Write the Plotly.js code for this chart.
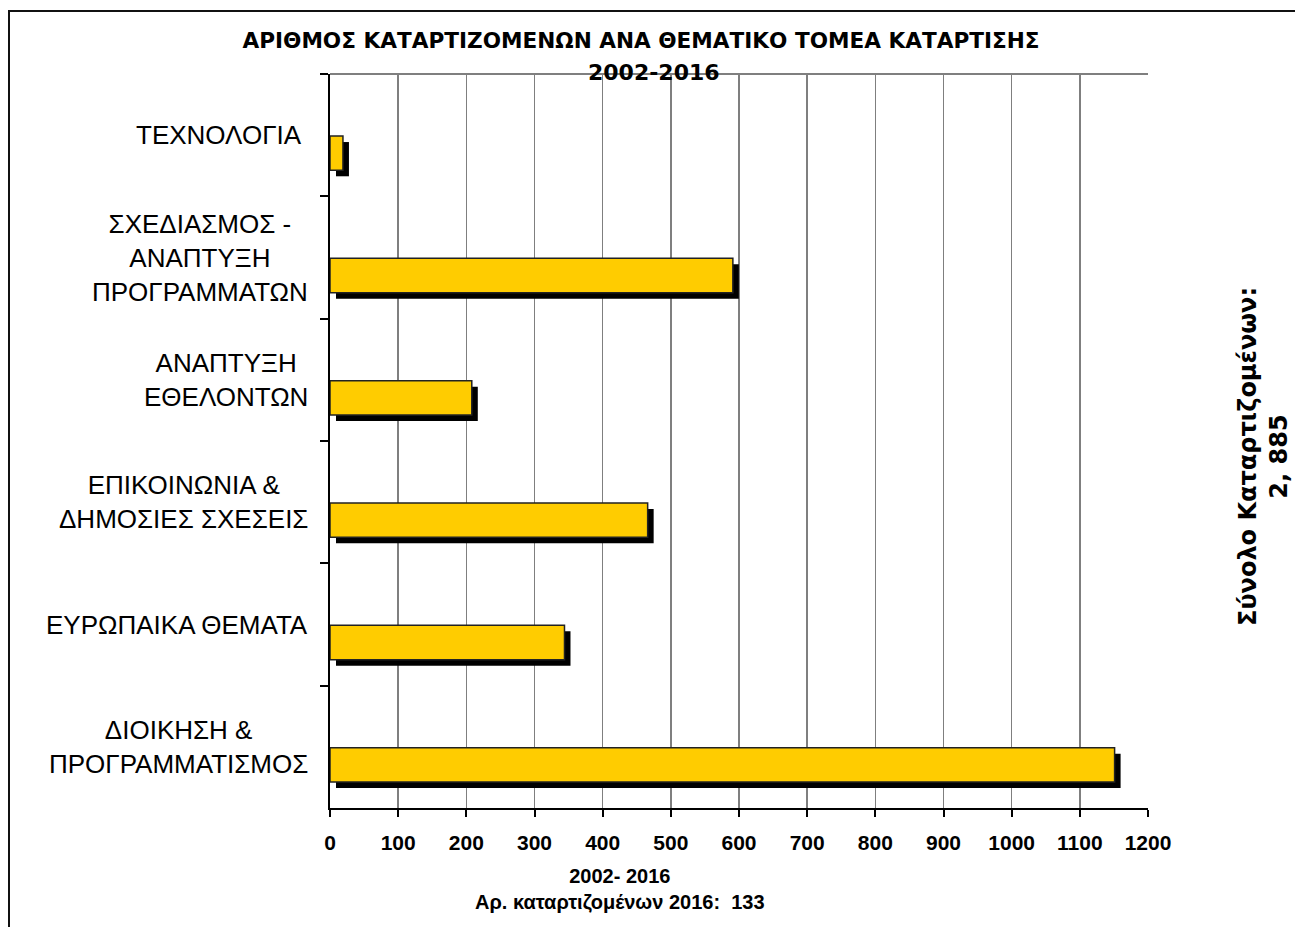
<!DOCTYPE html>
<html>
<head>
<meta charset="utf-8">
<script src="https://cdn.plot.ly/plotly-3.0.1.min.js"></script>
<style>
  html, body { margin: 0; padding: 0; overflow: hidden; background: #fff; }
  #chart { width: 1295px; height: 927px; position: absolute; left: 0; top: 0; }
  #frame { position: absolute; left: 8px; top: 10px; width: 1400px; height: 1000px;
           border: 2px solid #111; pointer-events: none; }
</style>
</head>
<body>
<div id="chart"></div>
<div id="frame"></div>
<script>
// ---- data (top to bottom as in the picture) ----
const categories = [
  "ΤΕΧΝΟΛΟΓΙΑ",
  "ΣΧΕΔΙΑΣΜΟΣ - ΑΝΑΠΤΥΞΗ ΠΡΟΓΡΑΜΜΑΤΩΝ",
  "ΑΝΑΠΤΥΞΗ ΕΘΕΛΟΝΤΩΝ",
  "ΕΠΙΚΟΙΝΩΝΙΑ & ΔΗΜΟΣΙΕΣ ΣΧΕΣΕΙΣ",
  "ΕΥΡΩΠΑΙΚΑ ΘΕΜΑΤΑ",
  "ΔΙΟΙΚΗΣΗ & ΠΡΟΓΡΑΜΜΑΤΙΣΜΟΣ"
];
const categoryLabels = [
  "ΤΕΧΝΟΛΟΓΙΑ\u00a0",
  "ΣΧΕΔΙΑΣΜΟΣ -<br>ΑΝΑΠΤΥΞΗ<br>ΠΡΟΓΡΑΜΜΑΤΩΝ",
  "ΑΝΑΠΤΥΞΗ<br>ΕΘΕΛΟΝΤΩΝ",
  "ΕΠΙΚΟΙΝΩΝΙΑ &<br>ΔΗΜΟΣΙΕΣ ΣΧΕΣΕΙΣ",
  "ΕΥΡΩΠΑΙΚΑ ΘΕΜΑΤΑ",
  "ΔΙΟΙΚΗΣΗ &<br>ΠΡΟΓΡΑΜΜΑΤΙΣΜΟΣ"
];
const trainees = [19, 591, 208, 466, 344, 1151];
const xTickValues = [0, 100, 200, 300, 400, 500, 600, 700, 800, 900, 1000, 1100, 1200];

const titleLine1 = "ΑΡΙΘΜΟΣ ΚΑΤΑΡΤΙΖΟΜΕΝΩΝ ΑΝΑ ΘΕΜΑΤΙΚΟ ΤΟΜΕΑ ΚΑΤΑΡΤΙΣΗΣ";
const titleLine2 = "2002-2016";
const xTitleText = "2002- 2016<br>Αρ. καταρτιζομένων 2016: \u00a0133";
const sideText = "Σύνολο Καταρτιζομένων:<br>2, 885";

// ---- layout constants ----
const W = 1295, H = 927;
const M = { l: 330, r: 147, t: 74, b: 119 };
const xMax = 1200;
const plotW = W - M.l - M.r;
const plotH = H - M.t - M.b;
const bandPx = plotH / categories.length;
const barWidth = 0.28;
const barShift = 18 / bandPx;                              // bars sit below band centre
const shadowPx = 6;
const shadowDx = shadowPx * xMax / plotW;                 // in x units
const shadowDy = shadowPx / bandPx;                        // in category units

const shadow = {
  type: 'bar', orientation: 'h',
  y: categories, x: trainees,
  base: categories.map(() => shadowDx),
  width: barWidth, offset: -barWidth / 2 + barShift + shadowDy,
  marker: { color: '#000000', line: { width: 0 } },
  hoverinfo: 'skip', showlegend: false
};
const bars = {
  type: 'bar', orientation: 'h',
  y: categories, x: trainees,
  width: barWidth, offset: -barWidth / 2 + barShift,
  marker: { color: '#FFCC00', line: { color: '#222222', width: 1.5 } },
  showlegend: false
};

const labelFont = { family: 'Liberation Sans, Arial, sans-serif', size: 26, color: '#000' };
const annotations = categories.map((c, i) => ({
  xref: 'paper', yref: 'y', x: 0, y: c, xanchor: 'right', yanchor: 'middle',
  xshift: -20, align: 'center', showarrow: false, text: categoryLabels[i], font: labelFont
}));
annotations.push({
  xref: 'paper', yref: 'paper', x: (654 - M.l) / plotW, y: 1, yanchor: 'middle', xanchor: 'center',
  yshift: 2, showarrow: false, text: titleLine2,
  font: { family: 'DejaVu Sans, sans-serif', size: 22, color: '#000', weight: 'bold' }
});
annotations.push({
  xref: 'paper', yref: 'paper', x: (620 - M.l) / plotW, y: 0, yanchor: 'top', xanchor: 'center',
  yshift: -55, showarrow: false, text: xTitleText, align: 'center',
  font: { family: 'Liberation Sans, Arial, sans-serif', size: 20, color: '#000', weight: 'bold' }
});
annotations.push({
  xref: 'paper', yref: 'paper', x: 1, y: (M.t + plotH - 457) / plotH, xanchor: 'center', yanchor: 'middle',
  xshift: 115, showarrow: false, text: sideText, textangle: -90, align: 'center',
  font: { family: 'DejaVu Sans, sans-serif', size: 24, color: '#000', weight: 'bold' }
});

const layout = {
  width: W, height: H,
  margin: M,
  paper_bgcolor: '#ffffff', plot_bgcolor: '#ffffff',
  barmode: 'overlay',
  title: {
    text: titleLine1, x: 641 / W, xanchor: 'center',
    yref: 'container', y: 1 - 40 / H, yanchor: 'middle',
    font: { family: 'DejaVu Sans, sans-serif', size: 21.6, color: '#000', weight: 'bold' }
  },
  xaxis: {
    range: [0, xMax], tickvals: xTickValues, ticktext: xTickValues.map(String),
    showgrid: true, gridcolor: '#7f7f7f', gridwidth: 1.5,
    zeroline: false, showline: true, linecolor: '#000', linewidth: 2,
    ticks: 'outside', ticklen: 7, tickwidth: 2, tickcolor: '#000',
    ticklabelstandoff: 8,
    tickfont: { family: 'Liberation Sans, Arial, sans-serif', size: 21, color: '#000', weight: 'bold' },
    fixedrange: true
  },
  yaxis: {
    type: 'category', categoryorder: 'array', categoryarray: categories,
    autorange: 'reversed',
    showticklabels: false, showgrid: false, zeroline: false,
    showline: true, linecolor: '#000', linewidth: 2,
    ticks: 'outside', tickson: 'boundaries', ticklen: 8, tickwidth: 2, tickcolor: '#000',
    fixedrange: true
  },
  shapes: [
    { type: 'line', xref: 'paper', yref: 'paper', x0: 0, x1: 1, y0: 1, y1: 1,
      line: { color: '#7f7f7f', width: 2 } }
  ],
  annotations: annotations
};

Plotly.newPlot('chart', [shadow, bars], layout, { displayModeBar: false, staticPlot: true });
</script>
</body>
</html>
